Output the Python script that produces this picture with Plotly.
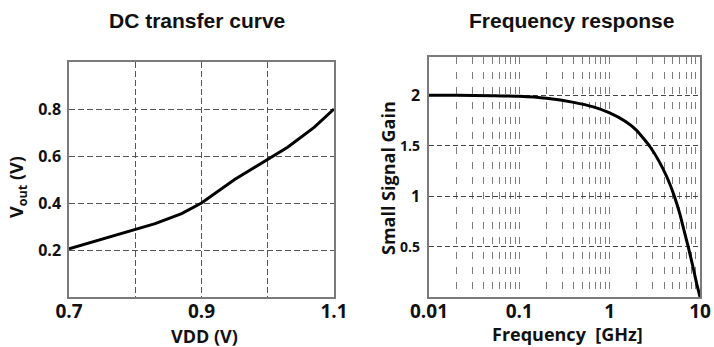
import plotly.graph_objects as go

# DC transfer curve: output voltage vs supply voltage
vdd = [0.70, 0.75, 0.80, 0.83, 0.87, 0.90, 0.95, 1.00, 1.03, 1.07, 1.10]
vout = [0.205, 0.245, 0.287, 0.312, 0.355, 0.400, 0.500, 0.585, 0.637, 0.722, 0.800]

# Frequency response: small signal gain vs frequency (GHz)
freq = [0.01, 0.02, 0.05, 0.1, 0.2, 0.4, 0.66, 1.0, 1.5, 2.0, 2.8, 3.5, 4.3, 5.2,
        6.0, 6.7, 7.4, 8.45, 9.2, 10.0]
gain = [2.0, 2.0, 1.995, 1.99, 1.97, 1.93, 1.885, 1.825, 1.74, 1.65, 1.49, 1.35, 1.19, 1.0,
        0.82, 0.65, 0.5, 0.28, 0.13, 0.0]

# tick values / labels
dc_x_ticks = [0.7, 0.8, 0.9, 1.0, 1.1]
dc_x_text = ["0.7", " ", "0.9", " ", "1.1"]
dc_y_ticks = [0.2, 0.4, 0.6, 0.8]
dc_y_text = ["0.2", "0.4", "0.6", "0.8"]

decades = [0.01, 0.1, 1, 10]
decade_labels = ["0.01", "0.1", "1", "10"]
fr_x_ticks = [d * m for d in decades[:-1] for m in range(1, 10)] + [decades[-1]]
fr_x_text = []
for i, d in enumerate(decades[:-1]):
    fr_x_text += [decade_labels[i]] + [" "] * 8
fr_x_text.append(decade_labels[-1])
fr_y_ticks = [0.5, 1, 1.5, 2]
fr_y_text = ['<span style="font-size:14px">0.5</span>', "1",
             '<span style="font-size:14px">1.5</span>', "2"]

W, H = 714, 347
TICK_FONT = "Open Sans"
TITLE_FONT = "Liberation Sans"

fig = go.Figure()
fig.add_trace(go.Scatter(x=vdd, y=vout, mode="lines", xaxis="x", yaxis="y",
                         line=dict(color="black", width=3), showlegend=False))
fig.add_trace(go.Scatter(x=freq, y=gain, mode="lines", xaxis="x2", yaxis="y2",
                         line=dict(color="black", width=3, shape="spline", smoothing=0.4),
                         showlegend=False))

border = dict(showline=True, mirror=True, linecolor="#7a7a7a", linewidth=1.5, zeroline=False,
              ticks="", automargin=False, tickangle=0)

fig.update_layout(
    width=W, height=H,
    margin=dict(l=0, r=0, t=0, b=0, autoexpand=False),
    paper_bgcolor="white", plot_bgcolor="white",
    xaxis=dict(domain=[69 / W, 334 / W], anchor="y", range=[0.7, 1.1],
               tickvals=dc_x_ticks, ticktext=dc_x_text,
               showgrid=True, gridcolor="#555555", gridwidth=1, griddash="6px,3px",
               tickfont=dict(family=TICK_FONT, size=19, color="#111", weight="bold"),
               ticklabelstandoff=-4, **border),
    yaxis=dict(domain=[1 - 297 / H, 1 - 62 / H], anchor="x", range=[0, 1.0],
               tickvals=dc_y_ticks, ticktext=dc_y_text,
               showgrid=True, gridcolor="#555555", gridwidth=1, griddash="6px,3px",
               tickfont=dict(family=TICK_FONT, size=16, color="#111", weight="bold"),
               ticklabelstandoff=3, **border),
    xaxis2=dict(domain=[429 / W, 700 / W], anchor="y2", type="log", range=[-2, 1],
                tickvals=fr_x_ticks, ticktext=fr_x_text,
                showgrid=True, gridcolor="#7c7c7c", gridwidth=1.3, griddash="7px,8px",
                tickfont=dict(family=TICK_FONT, size=19, color="#111", weight="bold"),
                ticklabelstandoff=-4, **border),
    yaxis2=dict(domain=[1 - 297 / H, 1 - 57 / H], anchor="x2", range=[0, 2.38],
                tickvals=fr_y_ticks, ticktext=fr_y_text,
                showgrid=True, gridcolor="#444444", gridwidth=1, griddash="5px,3px",
                tickfont=dict(family=TICK_FONT, size=16, color="#111", weight="bold"),
                ticklabelstandoff=4, **border),
)

def label(text, px, py, size, family, angle=0):
    fig.add_annotation(text=text, x=px / W, y=1 - py / H, xref="paper", yref="paper",
                       xanchor="center", yanchor="middle", showarrow=False, textangle=angle,
                       font=dict(family=family, size=size, color="#111", weight="bold"))

label("DC transfer curve", 197, 21, 21, TITLE_FONT)
label("Frequency response", 571, 21, 21, TITLE_FONT)
label("VDD (V)", 204, 336, 18, TICK_FONT)
label("Frequency  [GHz]", 567, 334, 18, TICK_FONT)
label("V<sub>out</sub> (V)", 17, 187, 18, TICK_FONT, angle=-90)
label("Small Signal Gain", 388, 178, 18, TICK_FONT, angle=-90)

fig.write_html("out.html")
